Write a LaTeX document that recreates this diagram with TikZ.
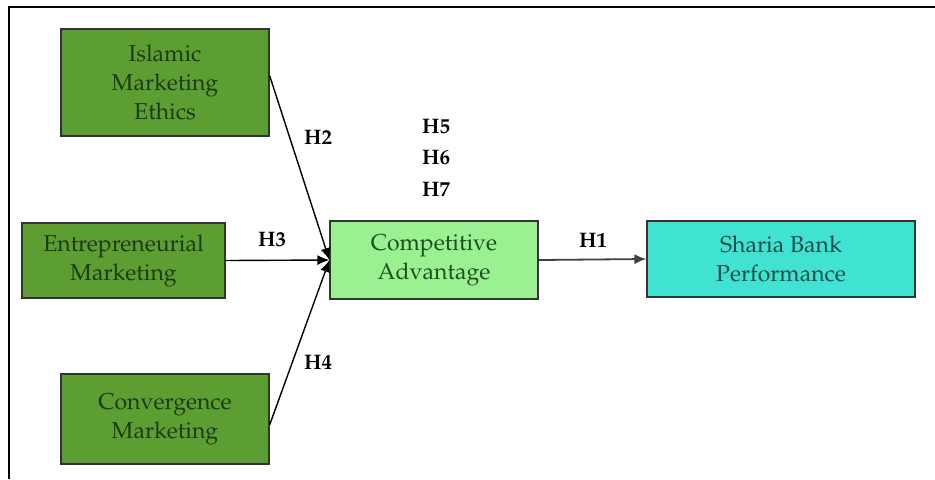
\documentclass[tikz,border=0pt]{standalone}
\usepackage[T1]{fontenc}
\usepackage{mathpazo}
\usepackage{tikz}
\usetikzlibrary{arrows.meta}

\definecolor{darkbox}{RGB}{92,158,50}
\definecolor{darktext}{RGB}{28,58,18}
\definecolor{lightbox}{RGB}{155,240,145}
\definecolor{lighttext}{RGB}{25,80,30}
\definecolor{tealbox}{RGB}{64,226,210}
\definecolor{tealtext}{RGB}{25,75,70}

\begin{document}
\begin{tikzpicture}[x=0.5pt, y=-0.5pt,
  box/.style={draw=black!80, line width=0.6pt, align=center, inner sep=0pt,
    font=\fontsize{11.5}{14.5}\selectfont},
  var/.style={box, fill=darkbox, text=darktext},
  hyp/.style={font=\fontsize{10.5}{12}\selectfont\bfseries},
  path/.style={-{Latex[length=6pt, width=5pt]}, line width=0.7pt}]
 \useasboundingbox (0,0) rectangle (935,479);
 \draw[line width=0.7pt] (935,7) -- (9,7) -- (9,479);

 \draw (165, 82.5) node[var, minimum width=104pt, minimum height=53.5pt] (ime) {Islamic\\Marketing\\Ethics};
 \draw (123.5, 260.5) node[var, minimum width=101.5pt, minimum height=37.5pt] (em) {Entrepreneurial\\Marketing};
 \draw (165, 419) node[var, minimum width=104pt, minimum height=45pt] (cm) {Convergence\\Marketing};
 \draw (434, 260) node[box, fill=lightbox, text=lighttext, minimum width=104pt, minimum height=39pt] (ca) {Competitive\\Advantage};
 \draw (781, 259) node[box, fill=tealbox, text=tealtext, minimum width=134pt, minimum height=38pt] (sbp) {Sharia Bank\\Performance};

 \draw (318, 138) node[hyp] (h2) {H2};
 \draw (272, 240) node[hyp] (h3) {H3};
 \draw (318, 363) node[hyp] (h4) {H4};
 \draw (436, 127) node[hyp] (h5) {H5};
 \draw (436, 158) node[hyp] (h6) {H6};
 \draw (436, 190) node[hyp] (h7) {H7};
 \draw (593, 241) node[hyp] (h1) {H1};

 \draw[path] ([yshift=3.5pt]ime.east) -- (ca.west);
 \draw[path] (em.east) -- (ca.west);
 \draw[path] ([yshift=-3pt]cm.east) -- (ca.west);
 \draw[path, draw=black!75, line width=0.9pt] (ca.east) -- (sbp.west);
\end{tikzpicture}
\end{document}
